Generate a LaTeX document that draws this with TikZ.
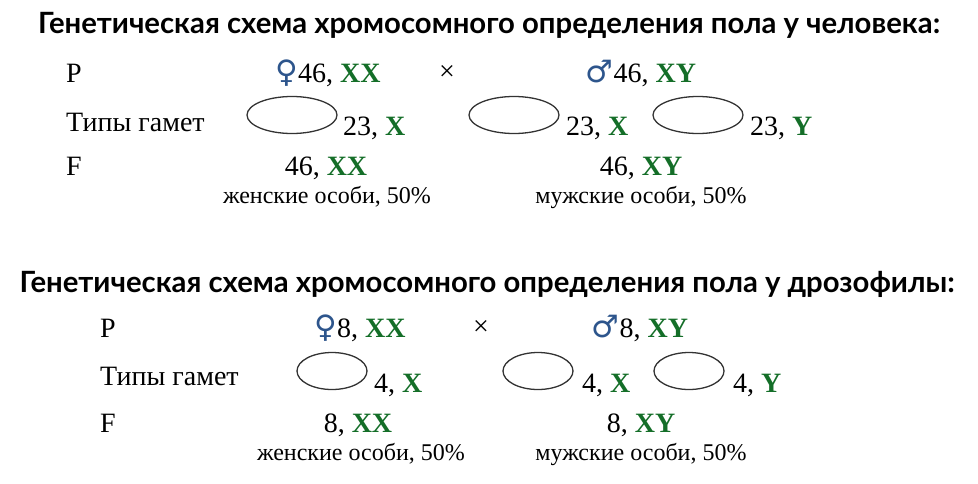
\documentclass[tikz,border=0pt]{standalone}
\usepackage{fontspec}
\setmainfont{Liberation Serif}
\newfontfamily\titlefont{Lato}
\newfontfamily\signfont{DejaVu Sans}
\usetikzlibrary{shapes.geometric}
\definecolor{chromgreen}{RGB}{20,110,40}
\definecolor{signblue}{RGB}{45,85,140}
\newcommand{\chrom}[1]{\textcolor{chromgreen}{\textbf{#1}}}
\newcommand{\sexsign}[1]{{\signfont\fontsize{31}{31}\selectfont\color{signblue}#1}}

\begin{document}
\begin{tikzpicture}[x=1pt,y=-1pt,
  title/.style={font=\titlefont\bfseries\fontsize{29.3}{33}\selectfont, anchor=base, inner sep=0pt},
  txt/.style={font=\fontsize{28}{32}\selectfont, anchor=base, inner sep=0pt},
  lbl/.style={txt, anchor=base west},
  note/.style={font=\fontsize{24}{28}\selectfont, anchor=base, inner sep=0pt},
  gamete/.style={ellipse, draw=black!80, line width=1.3pt, inner sep=0pt, minimum height=37pt}]
  \useasboundingbox (0,0) rectangle (978,483);

  % scheme for man
  \node[title] (title1) at (489,33) {Генетическая схема хромосомного определения пола у человека:};
  \node[lbl] (p1) at (66,82) {P};
  \node[txt] (mom1) at (328,82) {\sexsign{♀}46, \chrom{XX}};
  \node[txt] (cross1) at (447,80) {×};
  \node[txt] (dad1) at (641,82) {\sexsign{♂}46, \chrom{XY}};
  \node[lbl] (types1) at (66,131) {Типы гамет};
  \node[gamete, minimum width=90pt] (ga1) at (292,115) {};
  \node[lbl] (gl1) at (343,135) {23, \chrom{X}};
  \node[gamete, minimum width=90pt] (gb1) at (514,115) {};
  \node[lbl] (gl2) at (566,135) {23, \chrom{X}};
  \node[gamete, minimum width=90pt] (gc1) at (698,115) {};
  \node[lbl] (gl3) at (750,135) {23, \chrom{Y}};
  \node[lbl] (f1) at (66,175) {F};
  \node[txt] (girl1) at (326,175) {46, \chrom{XX}};
  \node[note] (gn1) at (327,203) {женские особи, 50\%};
  \node[txt] (boy1) at (641,175) {46, \chrom{XY}};
  \node[note] (bn1) at (641,203) {мужские особи, 50\%};

  % scheme for drosophila
  \node[title] (title2) at (487,292) {Генетическая схема хромосомного определения пола у дрозофилы:};
  \node[lbl] (p2) at (100,337) {P};
  \node[txt] (mom2) at (360,337) {\sexsign{♀}8, \chrom{XX}};
  \node[txt] (cross2) at (481,335) {×};
  \node[txt] (dad2) at (640,337) {\sexsign{♂}8, \chrom{XY}};
  \node[lbl] (types2) at (100,385) {Типы гамет};
  \node[gamete, minimum width=70pt] (ga2) at (332,371) {};
  \node[lbl] (gl4) at (374,392) {4, \chrom{X}};
  \node[gamete, minimum width=70pt] (gb2) at (538,371) {};
  \node[lbl] (gl5) at (582,392) {4, \chrom{X}};
  \node[gamete, minimum width=70pt] (gc2) at (689,371) {};
  \node[lbl] (gl6) at (733,392) {4, \chrom{Y}};
  \node[lbl] (f2) at (100,432) {F};
  \node[txt] (girl2) at (358,432) {8, \chrom{XX}};
  \node[note] (gn2) at (361,460) {женские особи, 50\%};
  \node[txt] (boy2) at (641,432) {8, \chrom{XY}};
  \node[note] (bn2) at (641,460) {мужские особи, 50\%};
\end{tikzpicture}
\end{document}
